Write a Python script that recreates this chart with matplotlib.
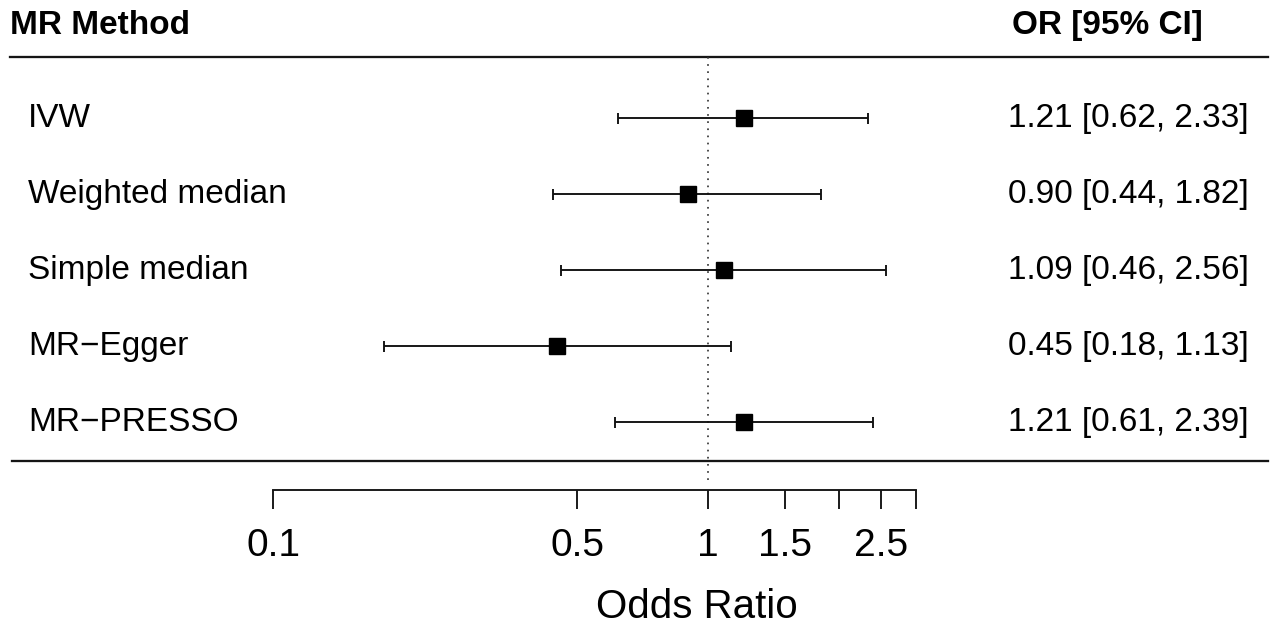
import numpy as np
from matplotlib import pyplot as plt
from matplotlib import transforms

plt.rcParams['font.family'] = ['Liberation Sans', 'DejaVu Sans']

# data
methods = ["IVW", "Weighted median", "Simple median", "MR\u2212Egger", "MR\u2212PRESSO"]
or_vals = np.array([1.21, 0.90, 1.09, 0.45, 1.21])
ci_low = np.array([0.62, 0.44, 0.46, 0.18, 0.61])
ci_high = np.array([2.33, 1.82, 2.56, 1.13, 2.39])

tick_vals = [0.1, 0.5, 1, 1.5, 2, 2.5, 3]
tick_labels = ["0.1", "0.5", "1", "1.5", "", "2.5", ""]

W, H = 1280, 630
px = 0.72  # points per pixel at dpi 100

fig = plt.figure(figsize=(12.8, 6.3), dpi=100)
ax = fig.add_axes([0, 0, 1, 1])
ax.set_xscale('log')
# x=1 sits at pixel 708, one decade is 435 px
ax.set_xlim(10 ** (-708 / 435), 10 ** ((W - 708) / 435))
ax.set_ylim(H, 0)

tr = transforms.blended_transform_factory(ax.transAxes, ax.transData)

row_y = 118 + 76 * np.arange(len(methods))

# header and separator lines
ax.text(10 / W, 34, "MR Method", transform=tr, fontsize=24, fontweight='bold',
        ha='left', va='baseline')
ax.text(1012 / W, 34, "OR [95% CI]", transform=tr, fontsize=24, fontweight='bold',
        ha='left', va='baseline')
ax.axhline(57, xmin=10 / W, xmax=1268 / W, color='#151515', lw=2.3 * px)
ax.axhline(461, xmin=12 / W, xmax=1268 / W, color='#151515', lw=2.3 * px)

# reference line
ax.vlines(1, 57, 483, colors='#333333', lw=1.7 * px, linestyles=(0, (1, 3.2)))

# estimates
ax.errorbar(or_vals, row_y, xerr=[or_vals - ci_low, ci_high - or_vals],
            fmt='s', ms=12, color='black', ecolor='#111111',
            elinewidth=1.9 * px, capsize=5.5 * px, capthick=1.9 * px)

for i in range(len(methods)):
    ax.text(28 / W, row_y[i] + 9, methods[i], transform=tr, fontsize=24,
            ha='left', va='baseline')
    ann = "%.2f [%.2f, %.2f]" % (or_vals[i], ci_low[i], ci_high[i])
    ax.text(1249 / W, row_y[i] + 9, ann, transform=tr, fontsize=24,
            ha='right', va='baseline')

# x axis drawn like R's axis()
for s in ['top', 'left', 'right']:
    ax.spines[s].set_visible(False)
ax.spines['bottom'].set_position(('data', 490))
ax.spines['bottom'].set_bounds(0.1, 3)
ax.spines['bottom'].set_linewidth(1.9 * px)
ax.spines['bottom'].set_color('#151515')
ax.set_xticks(tick_vals)
ax.set_xticklabels(tick_labels)
ax.xaxis.set_minor_locator(plt.NullLocator())
ax.tick_params(axis='x', direction='out', length=19 * px, width=1.9 * px,
               color='#151515', labelsize=28, pad=19 * px)
ax.set_yticks([])

ax.text(697 / W, 618, "Odds Ratio", transform=tr, fontsize=29,
        ha='center', va='baseline')

fig.savefig('out.png', dpi=100)
